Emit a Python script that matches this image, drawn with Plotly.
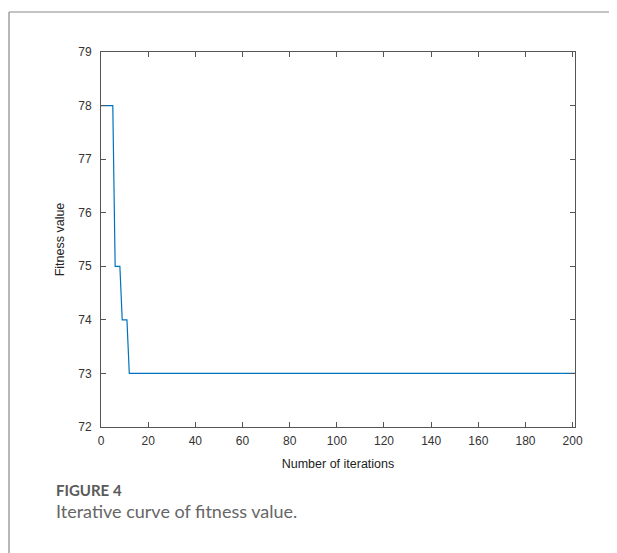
import plotly.graph_objects as go

# Breakpoints of the fitness curve (iteration, fitness)
iterations = [0, 5, 6, 8, 9, 11, 12, 201]
fitness = [78, 78, 75, 75, 74, 74, 73, 73]

x_ticks = [0, 20, 40, 60, 80, 100, 120, 140, 160, 180, 200]
y_ticks = [72, 73, 74, 75, 76, 77, 78, 79]

# figure geometry (page has an 8px body margin)
W, H = 617, 553
L, R, T, B = 93, 50, 44, 134
PW, PH = W - L - R, H - T - B


def px(x):
    return (x - L) / PW


def py(y):
    return (H - B - y) / PH


fig = go.Figure()
fig.add_trace(go.Scatter(x=iterations, y=fitness, mode="lines",
                         line=dict(color="#0072BD", width=1.2), showlegend=False))

axis_common = dict(showgrid=False, zeroline=False, showline=True, linecolor="#555555",
                   linewidth=1, mirror="allticks", ticks="inside", ticklen=5,
                   tickcolor="#555555", automargin=False,
                   tickfont=dict(family="Arial", size=12, color="#333333"))

fig.update_xaxes(range=[0, 201], tickvals=x_ticks, ticklabelstandoff=3,
                 title=dict(text="Number of iterations", font=dict(family="Arial", size=12.5, color="#222222"), standoff=11),
                 **axis_common)
fig.update_yaxes(range=[72, 79], tickvals=y_ticks, ticklabelstandoff=6,
                 title=dict(text="Fitness value", font=dict(family="Arial", size=12.5, color="#222222"), standoff=10),
                 **axis_common)

fig.update_layout(
    width=W, height=H,
    margin=dict(l=L, r=R, t=T, b=B),
    paper_bgcolor="white", plot_bgcolor="white",
    shapes=[
        dict(type="line", xref="paper", yref="paper", x0=px(1), x1=px(W + 20),
             y0=py(4), y1=py(4), line=dict(color="#888888", width=1.2)),
        dict(type="line", xref="paper", yref="paper", x0=px(1), x1=px(1),
             y0=py(4), y1=py(H + 20), line=dict(color="#888888", width=1.2)),
    ],
    annotations=[
        dict(text="<b>FIGURE 4</b>", xref="paper", yref="paper", x=px(46), y=py(482),
             xanchor="left", yanchor="middle", showarrow=False,
             font=dict(family="Lato", size=15, color="#5a5a5a")),
        dict(text="Iterative curve of fitness value.", xref="paper", yref="paper", x=px(46),
             y=py(503), xanchor="left", yanchor="middle", showarrow=False,
             font=dict(family="Lato", size=18, color="#666666")),
    ],
)

fig.write_html("out.html")
